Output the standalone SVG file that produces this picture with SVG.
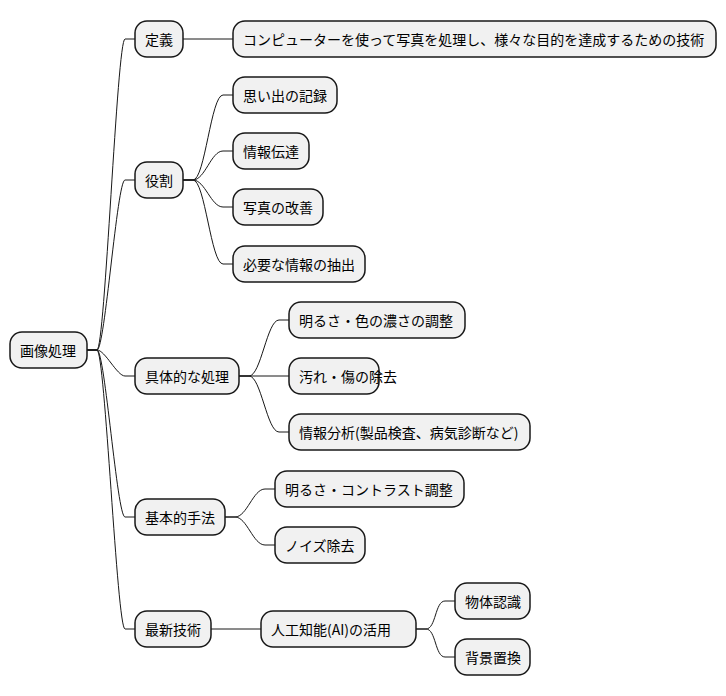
<svg xmlns="http://www.w3.org/2000/svg" width="726" height="696" viewBox="0 0 726 696">
<style>
.n rect{fill:#F1F1F1;stroke:#181818;stroke-width:1.5}
.n text{font-family:"Noto Sans CJK JP","Noto Sans",sans-serif;font-size:14px;fill:#000;dominant-baseline:central}
#c path{fill:none;stroke:#181818;stroke-width:1}
</style>
<rect width="726" height="696" fill="#fff"/>
<g id="c">
<path d="M87,350 h10 C105,350 117,39 125,39 h10"/>
<path d="M87,350 h10 C105,350 117,180 125,180 h10"/>
<path d="M87,350 h10 C105,350 117,376 125,376 h10"/>
<path d="M87,350 h10 C105,350 117,517 125,517 h10"/>
<path d="M87,350 h10 C105,350 117,629 125,629 h10"/>
<path d="M183,39 H233"/>
<path d="M183,180 h10 C205,180 211,95 223,95 h10"/>
<path d="M183,180 h10 C205,180 211,151 223,151 h10"/>
<path d="M183,180 h10 C205,180 211,207 223,207 h10"/>
<path d="M183,180 h10 C205,180 211,264 223,264 h10"/>
<path d="M239,376 h10 C261,376 267,320 279,320 h10"/>
<path d="M239,376 H289"/>
<path d="M239,376 h10 C261,376 267,432 279,432 h10"/>
<path d="M225,517 h10 C247,517 253,489 265,489 h10"/>
<path d="M225,517 h10 C247,517 253,545 265,545 h10"/>
<path d="M211,629 H261"/>
<path d="M416,629 h10 C436,629 435,601 445,601 h10"/>
<path d="M416,629 h10 C436,629 435,657 445,657 h10"/>
</g>
<g id="root" class="n"><rect x="10" y="332" width="77" height="36" rx="12"/><text x="20" y="350">画像処理</text></g>
<g id="teigi" class="n"><rect x="135" y="21" width="48" height="36" rx="12"/><text x="145" y="39">定義</text></g>
<g id="teigi1" class="n"><rect x="233" y="21" width="483" height="36" rx="12"/><text x="243" y="39">コンピューターを使って写真を処理し、様々な目的を達成するための技術</text></g>
<g id="yakuwari" class="n"><rect x="135" y="162" width="48" height="36" rx="12"/><text x="145" y="180">役割</text></g>
<g id="y1" class="n"><rect x="233" y="77" width="104" height="36" rx="12"/><text x="243" y="95">思い出の記録</text></g>
<g id="y2" class="n"><rect x="233" y="133" width="76" height="36" rx="12"/><text x="243" y="151">情報伝達</text></g>
<g id="y3" class="n"><rect x="233" y="189" width="90" height="36" rx="12"/><text x="243" y="207">写真の改善</text></g>
<g id="y4" class="n"><rect x="233" y="246" width="132" height="36" rx="12"/><text x="243" y="264">必要な情報の抽出</text></g>
<g id="gutai" class="n"><rect x="135" y="358" width="104" height="36" rx="12"/><text x="145" y="376">具体的な処理</text></g>
<g id="g1" class="n"><rect x="289" y="302" width="176" height="36" rx="12"/><text x="299" y="320">明るさ・色の濃さの調整</text></g>
<g id="g2" class="n"><rect x="289" y="358" width="90" height="36" rx="12"/><text x="299" y="376">汚れ・傷の除去</text></g>
<g id="g3" class="n"><rect x="289" y="414" width="241" height="36" rx="12"/><text x="299" y="432">情報分析(製品検査、病気診断など)</text></g>
<g id="kihon" class="n"><rect x="135" y="499" width="90" height="36" rx="12"/><text x="145" y="517">基本的手法</text></g>
<g id="k1" class="n"><rect x="275" y="471" width="189" height="36" rx="12"/><text x="285" y="489">明るさ・コントラスト調整</text></g>
<g id="k2" class="n"><rect x="275" y="527" width="90" height="36" rx="12"/><text x="285" y="545">ノイズ除去</text></g>
<g id="saishin" class="n"><rect x="135" y="611" width="76" height="36" rx="12"/><text x="145" y="629">最新技術</text></g>
<g id="ai" class="n"><rect x="261" y="611" width="155" height="36" rx="12"/><text x="271" y="629">人工知能(AI)の活用</text></g>
<g id="a1" class="n"><rect x="455" y="583" width="75" height="36" rx="12"/><text x="465" y="601">物体認識</text></g>
<g id="a2" class="n"><rect x="455" y="639" width="75" height="36" rx="12"/><text x="465" y="657">背景置換</text></g>
</svg>
